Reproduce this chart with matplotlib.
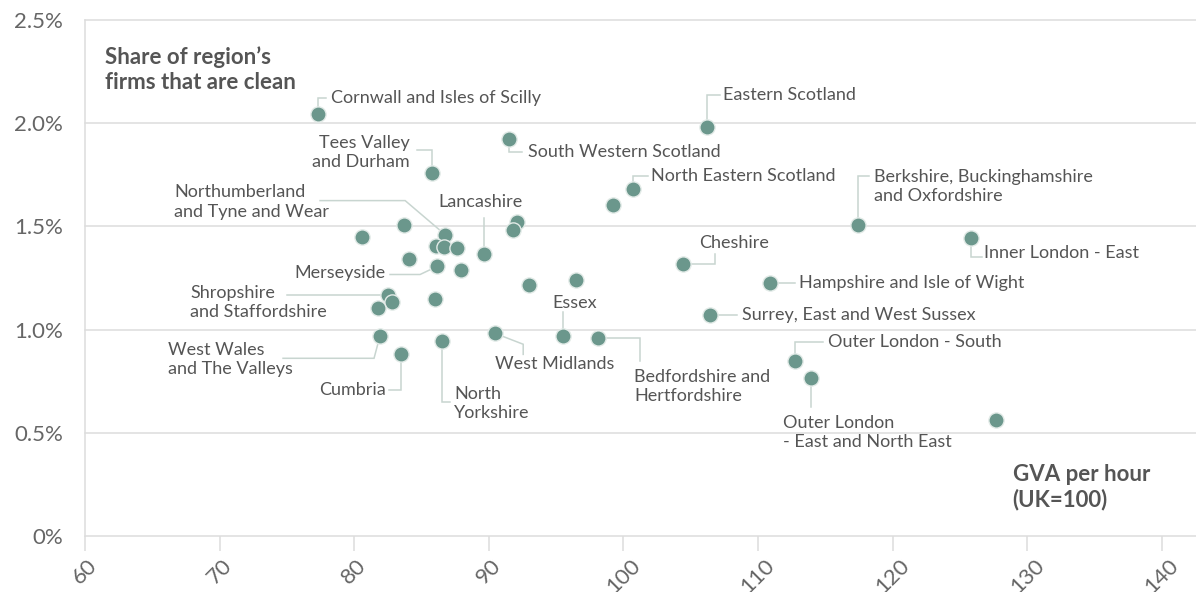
import matplotlib.pyplot as plt

plt.rcParams['font.family'] = ['Lato', 'DejaVu Sans']

# GVA per hour (UK=100) vs share of firms that are clean (%), one dot per region
names = [
    "Cornwall and Isles of Scilly", "Tees Valley\nand Durham", "South Western Scotland",
    "Eastern Scotland", "North Eastern Scotland", "",
    "Berkshire, Buckinghamshire\nand Oxfordshire", "Inner London - East", "Cheshire",
    "Hampshire and Isle of Wight", "Surrey, East and West Sussex", "Outer London - South",
    "Outer London\n- East and North East", "", "Essex",
    "Bedfordshire and\nHertfordshire", "West Midlands", "",
    "", "", "",
    "Lancashire", "Cumbria", "North\nYorkshire",
    "West Wales\nand The Valleys", "", "",
    "Northumberland\nand Tyne and Wear", "", "",
    "", "", "Merseyside",
    "", "", "Shropshire\nand Staffordshire",
    "", "",
]
gva = [
    77.3, 85.8, 91.5,
    106.2, 100.7, 99.2,
    117.4, 125.8, 104.4,
    110.9, 106.45, 112.75,
    113.9, 127.7, 95.5,
    98.1, 90.45, 96.5,
    93.0, 92.1, 91.8,
    89.65, 83.5, 86.55,
    81.9, 80.6, 83.7,
    86.75, 86.1, 86.7,
    87.65, 84.1, 86.15,
    87.95, 86.0, 82.5,
    82.8, 81.75,
]
share = [
    2.045, 1.76, 1.925,
    1.983, 1.68, 1.606,
    1.509, 1.445, 1.32,
    1.228, 1.069, 0.846,
    0.764, 0.561, 0.967,
    0.958, 0.982, 1.238,
    1.214, 1.523, 1.485,
    1.364, 0.88, 0.943,
    0.967, 1.451, 1.509,
    1.46, 1.407, 1.402,
    1.393, 1.34, 1.306,
    1.291, 1.146, 1.17,
    1.136, 1.107,
]

x_ticks = [60, 70, 80, 90, 100, 110, 120, 130, 140]
y_ticks = [0, 0.5, 1.0, 1.5, 2.0, 2.5]
y_tick_labels = ['0%', '0.5%', '1.0%', '1.5%', '2.0%', '2.5%']

# label position, alignment and leader steps from the dot:
# ('v', y) vertical move, ('h', x) horizontal move, ('p', x, y) straight to a point
placement = {
    "Cornwall and Isles of Scilly": (78.25, 2.123, 'left', [('v', 2.123), ('h', 77.9)]),
    "Tees Valley\nand Durham": (84.15, 1.857, 'right', [('v', 1.872), ('h', 84.65)]),
    "South Western Scotland": (92.9, 1.862, 'left', [('v', 1.862), ('h', 92.45)]),
    "Eastern Scotland": (107.4, 2.137, 'left', [('v', 2.137), ('h', 107.15)]),
    "North Eastern Scotland": (102.05, 1.746, 'left', [('v', 1.746), ('h', 101.8)]),
    "Berkshire, Buckinghamshire\nand Oxfordshire": (118.6, 1.693, 'left', [('v', 1.746), ('h', 118.25)]),
    "Inner London - East": (126.8, 1.373, 'left', [('v', 1.354), ('h', 126.65)]),
    "Cheshire": (108.2, 1.422, 'center', [('h', 106.8), ('v', 1.364)]),
    "Hampshire and Isle of Wight": (113.05, 1.228, 'left', [('h', 112.75)]),
    "Surrey, East and West Sussex": (108.8, 1.069, 'left', [('h', 108.45)]),
    "Outer London - South": (115.2, 0.938, 'left', [('v', 0.938), ('h', 114.85)]),
    "Outer London\n- East and North East": (111.85, 0.50, 'left', [('v', 0.624)]),
    "Essex": (96.4, 1.127, 'center', [('v', 1.083)]),
    "Bedfordshire and\nHertfordshire": (100.8, 0.723, 'left', [('h', 101.25), ('v', 0.846)]),
    "West Midlands": (90.45, 0.832, 'left', [('p', 92.55, 0.929), ('v', 0.88)]),
    "Lancashire": (89.4, 1.62, 'center', [('v', 1.543)]),
    "Cumbria": (82.35, 0.706, 'right', [('v', 0.706), ('h', 82.6)]),
    "North\nYorkshire": (87.42, 0.643, 'left', [('v', 0.648), ('h', 87.12)]),
    "West Wales\nand The Valleys": (66.17, 0.856, 'left', [('p', 81.47, 0.861), ('h', 74.71)]),
    "Northumberland\nand Tyne and Wear": (66.6, 1.618, 'left', [('p', 83.78, 1.625), ('h', 77.46)]),
    "Merseyside": (82.35, 1.272, 'right', [('p', 84.89, 1.267), ('h', 82.66)]),
    "Shropshire\nand Staffordshire": (67.8, 1.132, 'left', [('h', 75.0)]),
}

dot_color = '#6b978c'
leader_color = '#c8d5d0'
text_color = '#555555'
grid_color = '#dddddd'

fig = plt.figure(figsize=(11.96, 5.92), dpi=100)
ax = fig.add_axes([0.0711, 0.0946, 0.929, 0.8716])

for y in y_ticks:
    ax.axhline(y, color=grid_color, lw=1.1, zorder=1, clip_on=False)

ax.scatter(gva, share, s=120, color=dot_color, edgecolor='#e3ebe8', linewidth=1.0, zorder=3)

for name, x0, y0 in zip(names, gva, share):
    if not name:
        continue
    tx, ty, ha, steps = placement[name]
    xs, ys = [x0], [y0]
    for step in steps:
        if step[0] == 'v':
            xs.append(xs[-1]); ys.append(step[1])
        elif step[0] == 'h':
            xs.append(step[1]); ys.append(ys[-1])
        else:
            xs.append(step[1]); ys.append(step[2])
    ax.plot(xs, ys, color=leader_color, lw=1.1, zorder=2, solid_joinstyle='miter')
    ax.text(tx, ty, name, ha=ha, va='center', fontsize=13, color=text_color,
            linespacing=1.25, zorder=4)

ax.text(61.5, 2.258, "Share of region\u2019s\nfirms that are clean", ha='left', va='center',
        fontsize=16, fontweight='bold', color=text_color, linespacing=1.22)
ax.text(128.9, 0.237, "GVA per hour\n(UK=100)", ha='left', va='center',
        fontsize=16, fontweight='bold', color=text_color, linespacing=1.22)

ax.set_xlim(60, 142.54)
ax.set_ylim(0, 2.5)
ax.set_xticks(x_ticks)
ax.set_xticklabels([str(v) for v in x_ticks], rotation=45, ha='center', va='top')
ax.set_yticks(y_ticks)
ax.set_yticklabels(y_tick_labels)

for side in ['top', 'right', 'bottom']:
    ax.spines[side].set_visible(False)
ax.spines['left'].set_color(grid_color)
ax.spines['left'].set_linewidth(1.1)

ax.tick_params(axis='x', length=11, width=1.1, color=grid_color, labelsize=16,
               labelcolor='#666666', pad=3)
ax.tick_params(axis='y', length=0, labelsize=16, labelcolor='#666666', pad=16)

fig.savefig('out.png', dpi=100)
